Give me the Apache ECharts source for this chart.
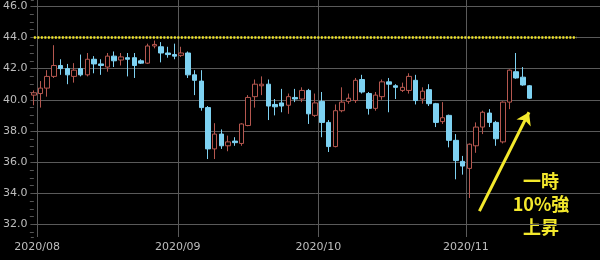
<!DOCTYPE html>
<html><head><meta charset="utf-8">
<script src="https://cdn.jsdelivr.net/npm/echarts@6/dist/echarts.min.js"></script>
<style>html,body{margin:0;padding:0;background:#000;}#c{width:600px;height:260px;}</style>
</head><body><div id="c"></div>
<script>
// trading-day categories (last 10 are empty future slots)
const dates = [
 '2020/07/31',
 '2020/08/03','2020/08/04','2020/08/05','2020/08/06','2020/08/07','2020/08/10','2020/08/11','2020/08/12','2020/08/13','2020/08/14',
 '2020/08/17','2020/08/18','2020/08/19','2020/08/20','2020/08/21','2020/08/24','2020/08/25','2020/08/26','2020/08/27','2020/08/28','2020/08/31',
 '2020/09/01','2020/09/02','2020/09/03','2020/09/04','2020/09/07','2020/09/08','2020/09/09','2020/09/10','2020/09/11','2020/09/14',
 '2020/09/15','2020/09/16','2020/09/17','2020/09/18','2020/09/21','2020/09/23','2020/09/24','2020/09/25','2020/09/28','2020/09/29','2020/09/30',
 '2020/10/01','2020/10/02','2020/10/05','2020/10/06','2020/10/07','2020/10/08','2020/10/09','2020/10/12','2020/10/13','2020/10/14','2020/10/15',
 '2020/10/16','2020/10/19','2020/10/20','2020/10/21','2020/10/22','2020/10/23','2020/10/26','2020/10/27','2020/10/28','2020/10/29','2020/10/30',
 '2020/11/02','2020/11/03','2020/11/04','2020/11/05','2020/11/06','2020/11/09','2020/11/10','2020/11/11','2020/11/12','2020/11/13',
 '2020/11/16','2020/11/17','2020/11/18','2020/11/19','2020/11/20','2020/11/23','2020/11/24','2020/11/25','2020/11/26','2020/11/27'
];
const opens = [40.3,40.4,40.75,41.5,42.2,42.0,41.5,42.0,41.6,42.6,42.3,42.1,42.8,42.55,42.7,42.7,42.5,42.35,43.45,43.4,43.0,42.9,
 42.85,43.0,41.6,41.2,39.5,36.85,37.8,37.05,37.35,37.2,38.35,40.2,40.9,41.0,39.7,39.8,39.65,40.15,40.05,40.6,39.0,
 39.9,38.55,37.0,39.3,39.9,39.95,41.3,40.4,39.45,40.2,41.15,40.9,40.6,40.6,41.25,40.05,40.65,39.75,38.6,39.0,37.4,36.05,
 35.6,37.05,38.25,39.15,38.55,37.3,39.85,41.8,41.45,40.9];
const closes = [40.45,40.75,41.5,42.2,42.0,41.6,41.9,41.6,42.6,42.3,42.2,42.8,42.5,42.75,42.6,42.2,42.35,43.45,43.55,43.0,42.9,42.8,
 43.0,41.6,41.25,39.5,36.85,37.8,37.05,37.3,37.25,38.45,40.15,41.0,41.0,39.6,39.55,39.6,40.2,40.05,40.6,39.1,39.8,
 38.55,37.0,39.3,39.85,40.1,41.25,40.5,39.45,40.3,41.15,41.0,40.8,40.8,41.5,39.95,40.55,39.75,38.55,38.85,37.4,36.1,35.75,
 37.15,38.25,39.2,38.55,37.5,39.85,41.9,41.4,40.95,40.1];
const lows = [39.65,39.5,40.2,41.4,41.6,41.0,41.1,41.5,41.5,41.7,41.6,41.8,42.1,42.2,41.5,41.4,42.3,42.3,43.3,42.4,42.7,42.6,
 42.75,41.4,40.3,39.3,36.2,36.2,36.85,36.7,37.05,37.05,38.3,39.5,40.3,38.7,39.0,39.2,39.1,39.85,39.85,38.45,38.9,
 37.6,36.65,36.95,39.2,39.75,39.8,40.4,39.05,39.3,40.0,39.2,40.05,40.5,40.4,39.7,39.75,39.6,38.25,38.45,36.95,34.9,35.2,
 33.7,36.6,37.8,38.25,37.05,37.2,39.4,41.35,40.9,40.05];
const highs = [40.6,41.2,41.9,43.5,42.6,42.3,42.35,42.9,43.0,42.8,42.6,43.0,43.1,43.0,43.0,43.0,42.6,43.6,43.8,43.7,43.4,43.6,
 43.4,43.1,41.9,41.9,39.6,38.5,38.1,37.7,37.6,38.5,40.3,41.3,41.5,41.3,40.05,40.7,40.4,40.7,40.8,40.7,40.4,
 40.5,38.7,39.7,40.8,40.4,41.4,41.6,40.5,40.5,41.3,41.4,41.0,41.1,41.7,41.6,40.8,41.0,39.8,39.85,39.05,37.8,36.4,
 37.2,38.55,39.3,39.4,38.65,39.9,41.95,43.0,42.1,40.95];
const yTicks = [32,34,36,38,40,42,44,46];
const refLevel = 44.0;           // yellow dotted reference level
const refSpan = [0, 81];         // category index range of the dotted line
const arrowFrom = [66.5, 32.86]; // [category index, price]
const arrowTo = [73.9, 39.2];
const noteText = '一時\n10%強\n上昇';

const candleData = opens.map((o, i) => [o, closes[i], lows[i], highs[i]]);
const monthStart = i => i > 0 && dates[i].slice(0, 7) !== dates[i - 1].slice(0, 7);
const YELLOW = '#f3e82c';

const chart = echarts.init(document.getElementById('c'), null, {renderer: 'canvas'});
chart.setOption({
  backgroundColor: '#000',
  animation: false,
  grid: {left: 30, right: -3, top: 0, bottom: 23, containLabel: false},
  xAxis: [{
    type: 'category', data: dates, boundaryGap: true,
    axisLine: {show: false}, axisTick: {show: false},
    axisLabel: {
      interval: (i) => monthStart(i), color: '#bdbdbd', fontFamily: 'DejaVu Sans', fontSize: 11, margin: 5,
      padding: [0, 7, 0, 0],
      formatter: v => v.slice(0, 7)
    },
    splitLine: {show: true, interval: (i) => monthStart(i), lineStyle: {color: '#5a5a5a', width: 1}}
  }, {
    type: 'value', min: -0.5, max: dates.length - 0.5, show: false
  }],
  yAxis: {
    type: 'value', min: 31.2, max: 46.4, minInterval: 2, maxInterval: 2, splitNumber: 7,
    axisLine: {show: false},
    axisTick: {show: true, length: 3, lineStyle: {color: '#555'}},
    minorTick: {show: true, splitNumber: 4, length: 4, lineStyle: {color: '#555'}},
    axisLabel: {color: '#bdbdbd', fontFamily: 'DejaVu Sans', fontSize: 11, margin: 3,
      showMinLabel: false, showMaxLabel: false,
      formatter: v => yTicks.includes(v) ? v.toFixed(1) : ''},
    splitLine: {show: true, showMinLine: false, showMaxLine: false, lineStyle: {color: '#5a5a5a', width: 1}}
  },
  series: [{
    type: 'candlestick', data: candleData, barWidth: 5,
    itemStyle: {color: '#000', color0: '#7ed2f2', borderColor: '#b5574f', borderColor0: '#7ed2f2', borderWidth: 1}
  }, {
    type: 'line', xAxisIndex: 1, data: [[refSpan[0], refLevel], [refSpan[1], refLevel]],
    symbol: 'none', silent: true,
    lineStyle: {color: YELLOW, width: 2.5, type: [2, 1.5], cap: 'butt'}
  }, {
    type: 'line', xAxisIndex: 1, data: [], silent: true,
    markLine: {
      silent: true, symbol: ['none', 'arrow'], symbolSize: 12, label: {show: false},
      lineStyle: {color: YELLOW, width: 3, type: 'solid'},
      data: [[{coord: arrowFrom}, {coord: arrowTo}]]
    }
  }],
  graphic: [{
    type: 'text', x: 541, y: 170, silent: true,
    style: {text: noteText, fill: YELLOW, font: 'bold 18px "Noto Sans CJK JP"', align: 'center', lineHeight: 23}
  }]
});
</script></body></html>
